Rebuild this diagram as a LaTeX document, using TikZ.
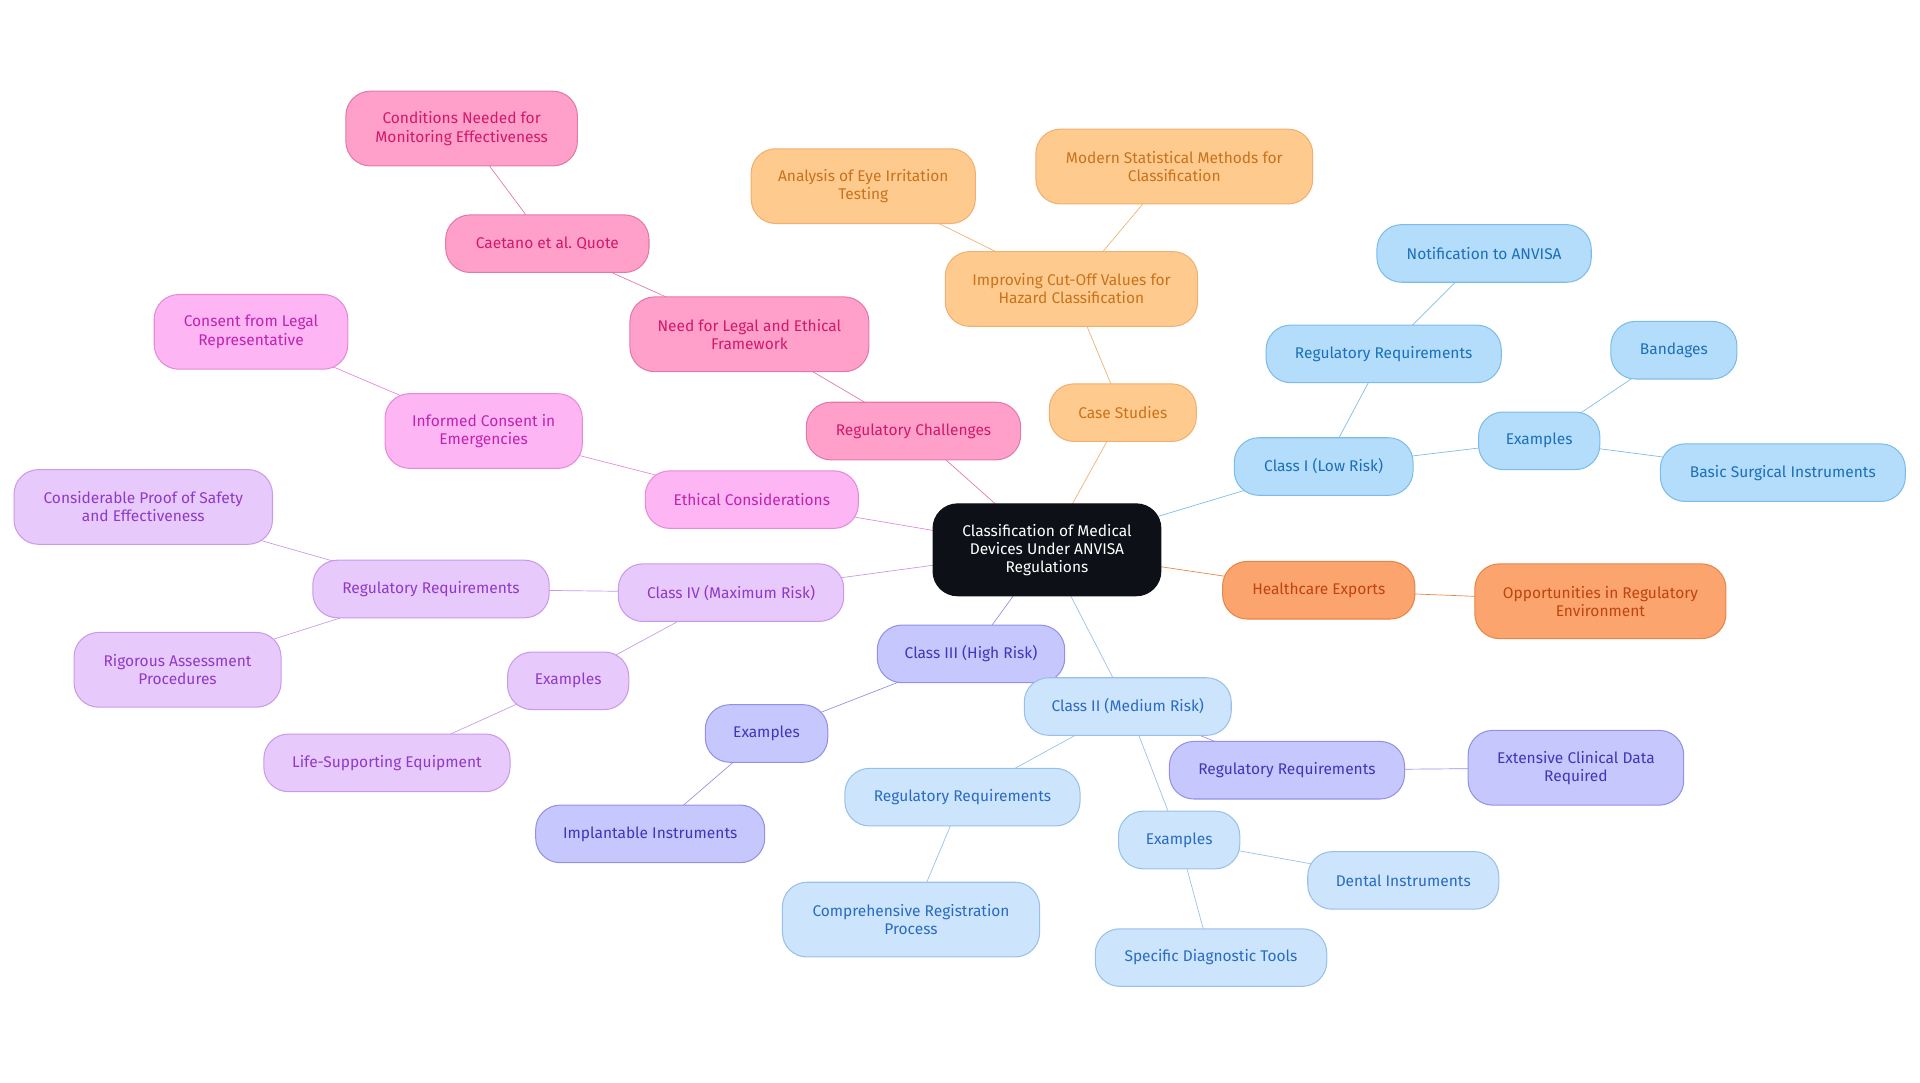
\documentclass[tikz,border=0pt]{standalone}
\usepackage{fontspec}
\setmainfont{Fira Sans}
\usepackage{tikz}
\usetikzlibrary{positioning,backgrounds}
\definecolor{rootbg}{HTML}{0D1117}
\definecolor{lowbg}{HTML}{B3DDFB}
\definecolor{lowdk}{HTML}{7DBCE9}
\definecolor{lowtx}{HTML}{1C6FB8}
\definecolor{medbg}{HTML}{CCE4FC}
\definecolor{meddk}{HTML}{98C0EA}
\definecolor{medtx}{HTML}{2A6BC2}
\definecolor{highbg}{HTML}{C6C7FC}
\definecolor{highdk}{HTML}{9490E6}
\definecolor{hightx}{HTML}{3E37B8}
\definecolor{maxbg}{HTML}{E8C9FB}
\definecolor{maxdk}{HTML}{C99AEA}
\definecolor{maxtx}{HTML}{8E3AC6}
\definecolor{ethbg}{HTML}{FDB5F4}
\definecolor{ethdk}{HTML}{E58AD9}
\definecolor{ethtx}{HTML}{BF23B0}
\definecolor{chalbg}{HTML}{FFA0CA}
\definecolor{chaldk}{HTML}{E279A8}
\definecolor{chaltx}{HTML}{D1186A}
\definecolor{casebg}{HTML}{FFCA8E}
\definecolor{casedk}{HTML}{F0B070}
\definecolor{casetx}{HTML}{C8731C}
\definecolor{expbg}{HTML}{FBA46D}
\definecolor{expdk}{HTML}{E8854A}
\definecolor{exptx}{HTML}{BF440F}

\begin{document}
\begin{tikzpicture}[x=0.025cm,y=-0.025cm,font=\fontsize{9}{10.5}\selectfont,
  blk/.style={rounded corners=0.5cm,align=center,minimum height=1.175cm,inner sep=2pt,line width=0.6pt},
  tall/.style={minimum height=1.525cm},
  rootblk/.style={blk,fill=rootbg,draw=rootbg,text=white,minimum height=1.875cm},
  lowblk/.style={blk,draw=lowdk,fill=lowbg,text=lowtx},
  medblk/.style={blk,draw=meddk,fill=medbg,text=medtx},
  highblk/.style={blk,draw=highdk,fill=highbg,text=hightx},
  maxblk/.style={blk,draw=maxdk,fill=maxbg,text=maxtx},
  ethblk/.style={blk,draw=ethdk,fill=ethbg,text=ethtx},
  chalblk/.style={blk,draw=chaldk,fill=chalbg,text=chaltx},
  caseblk/.style={blk,draw=casedk,fill=casebg,text=casetx},
  expblk/.style={blk,draw=expdk,fill=expbg,text=exptx},
  link/.style={line width=1.5pt}]
\useasboundingbox (0,0) rectangle (1568,884);
% ---------- root ----------
\node[rootblk,minimum width=4.65cm] (root) at (855,449) {Classification of Medical\\ Devices Under ANVISA\\ Regulations};
% ---------- class I ----------
\node[lowblk,minimum width=3.65cm] (c1) at (1081,381) {Class I (Low Risk)};
\node[lowblk,minimum width=4.8cm] (c1req) at (1130,289) {Regulatory Requirements};
\node[lowblk,minimum width=4.375cm] (c1note) at (1212,207) {Notification to ANVISA};
\node[lowblk,minimum width=2.475cm] (c1ex) at (1257,360) {Examples};
\node[lowblk,minimum width=2.575cm] (c1band) at (1367,286) {Bandages};
\node[lowblk,minimum width=5cm] (c1surg) at (1456,386) {Basic Surgical Instruments};
% ---------- case studies ----------
\node[caseblk,minimum width=3cm] (cs) at (917,337) {Case Studies};
\node[caseblk,tall,minimum width=5.15cm] (csimp) at (875,236) {Improving Cut-Off Values for\\ Hazard Classification};
\node[caseblk,tall,minimum width=4.575cm] (cseye) at (705,152) {Analysis of Eye Irritation\\ Testing};
\node[caseblk,tall,minimum width=5.65cm] (csstat) at (959,136) {Modern Statistical Methods for\\ Classification};
% ---------- regulatory challenges ----------
\node[chalblk,minimum width=4.375cm] (rc) at (746,352) {Regulatory Challenges};
\node[chalblk,tall,minimum width=4.875cm] (rcneed) at (612,273) {Need for Legal and Ethical\\ Framework};
\node[chalblk,minimum width=4.15cm] (rcquote) at (447,199) {Caetano et al.\ Quote};
\node[chalblk,tall,minimum width=4.725cm] (rccond) at (377,105) {Conditions Needed for\\ Monitoring Effectiveness};
% ---------- ethical considerations ----------
\node[ethblk,minimum width=4.35cm] (ec) at (614,408) {Ethical Considerations};
\node[ethblk,tall,minimum width=4.025cm] (ecinf) at (395,352) {Informed Consent in\\ Emergencies};
\node[ethblk,tall,minimum width=3.95cm] (eclegal) at (205,271) {Consent from Legal\\ Representative};
% ---------- class IV ----------
\node[maxblk,minimum width=4.6cm] (c4) at (597,484) {Class IV (Maximum Risk)};
\node[maxblk,minimum width=4.825cm] (c4req) at (352,481) {Regulatory Requirements};
\node[maxblk,tall,minimum width=5.275cm] (c4proof) at (117,414) {Considerable Proof of Safety\\ and Effectiveness};
\node[maxblk,tall,minimum width=4.225cm] (c4rig) at (145,547) {Rigorous Assessment\\ Procedures};
\node[maxblk,minimum width=2.475cm] (c4ex) at (464,556) {Examples};
\node[maxblk,minimum width=5.025cm] (c4life) at (316,623) {Life-Supporting Equipment};
% ---------- class III ----------
\node[highblk,minimum width=3.825cm] (c3) at (793,534) {Class III (High Risk)};
\node[highblk,minimum width=2.5cm] (c3ex) at (626,599) {Examples};
\node[highblk,minimum width=4.675cm] (c3impl) at (531,681) {Implantable Instruments};
% ---------- class II ----------
\node[medblk,minimum width=4.225cm] (c2) at (921,577) {Class II (Medium Risk)};
\node[highblk,minimum width=4.8cm] (c2hreq) at (1051,629) {Regulatory Requirements};
\node[highblk,tall,minimum width=4.4cm] (c2clin) at (1287,627) {Extensive Clinical Data\\ Required};
\node[medblk,minimum width=4.8cm] (c2req) at (786,651) {Regulatory Requirements};
\node[medblk,tall,minimum width=5.25cm] (c2reg) at (744,751) {Comprehensive Registration\\ Process};
\node[medblk,minimum width=2.475cm] (c2ex) at (963,686) {Examples};
\node[medblk,minimum width=3.9cm] (c2dent) at (1146,719) {Dental Instruments};
\node[medblk,minimum width=4.725cm] (c2diag) at (989,782) {Specific Diagnostic Tools};
% ---------- healthcare exports ----------
\node[expblk,minimum width=3.925cm] (hx) at (1077,482) {Healthcare Exports};
\node[expblk,tall,minimum width=5.125cm] (hxopp) at (1307,491) {Opportunities in Regulatory\\ Environment};
% ---------- links ----------
\begin{scope}[on background layer,link]
\draw[lowdk] (root.center) -- (c1.center);
\draw[lowdk] (c1.center) -- (c1req.center);
\draw[lowdk] (c1req.center) -- (c1note.center);
\draw[lowdk] (c1.center) -- (c1ex.center);
\draw[lowdk] (c1ex.center) -- (c1band.center);
\draw[lowdk] (c1ex.center) -- (c1surg.center);
\draw[casedk] (root.center) -- (cs.center);
\draw[casedk] (cs.center) -- (csimp.center);
\draw[casedk] (csimp.center) -- (cseye.center);
\draw[casedk] (csimp.center) -- (csstat.center);
\draw[chaldk] (root.center) -- (rc.center);
\draw[chaldk] (rc.center) -- (rcneed.center);
\draw[chaldk] (rcneed.center) -- (rcquote.center);
\draw[chaldk] (rcquote.center) -- (rccond.center);
\draw[ethdk] (root.center) -- (ec.center);
\draw[ethdk] (ec.center) -- (ecinf.center);
\draw[ethdk] (ecinf.center) -- (eclegal.center);
\draw[maxdk] (root.center) -- (c4.center);
\draw[maxdk] (c4.center) -- (c4req.center);
\draw[maxdk] (c4req.center) -- (c4proof.center);
\draw[maxdk] (c4req.center) -- (c4rig.center);
\draw[maxdk] (c4.center) -- (c4ex.center);
\draw[maxdk] (c4ex.center) -- (c4life.center);
\draw[highdk] (root.center) -- (c3.center);
\draw[highdk] (c3.center) -- (c3ex.center);
\draw[highdk] (c3ex.center) -- (c3impl.center);
\draw[meddk] (root.center) -- (c2.center);
\draw[highdk] (c2.center) -- (c2hreq.center);
\draw[highdk] (c2hreq.center) -- (c2clin.center);
\draw[meddk] (c2.center) -- (c2req.center);
\draw[meddk] (c2req.center) -- (c2reg.center);
\draw[meddk] (c2.center) -- (c2ex.center);
\draw[meddk] (c2ex.center) -- (c2dent.center);
\draw[meddk] (c2ex.center) -- (c2diag.center);
\draw[expdk] (root.center) -- (hx.center);
\draw[expdk] (hx.center) -- (hxopp.center);
\end{scope}
\end{tikzpicture}
\end{document}
